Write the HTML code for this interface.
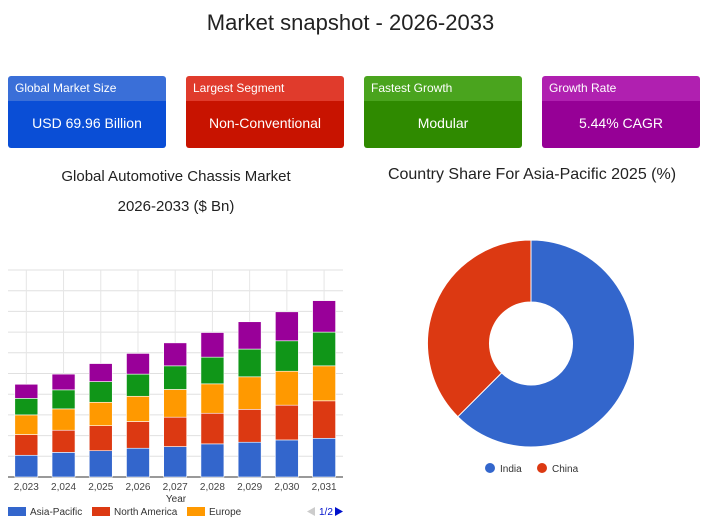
<!DOCTYPE html>
<html><head><meta charset="utf-8"><style>
body{margin:0;width:701px;height:530px;background:#fff;font-family:"Liberation Sans",sans-serif;overflow:hidden;position:relative}
.t{position:absolute;color:#222}
.card{position:absolute;top:76px;height:72px;width:158px;border-radius:3px;overflow:hidden;color:#fff}
.card .h{height:25px;font-size:12px;line-height:25px;padding-left:7px}
.card .v{height:47px;font-size:14px;line-height:45px;text-align:center}
</style></head><body>
<div class="t" style="left:0;width:701px;top:10px;text-align:center;font-size:22px">Market snapshot - 2026-2033</div>
<div class="card" style="left:8px"><div class="h" style="background:#3a6fd8">Global Market Size</div><div class="v" style="background:#0a4ed6">USD 69.96 Billion</div></div>
<div class="card" style="left:186px"><div class="h" style="background:#e03b2c">Largest Segment</div><div class="v" style="background:#c81300">Non-Conventional</div></div>
<div class="card" style="left:364px"><div class="h" style="background:#4aa41e">Fastest Growth</div><div class="v" style="background:#2f8a00">Modular</div></div>
<div class="card" style="left:542px"><div class="h" style="background:#b020b0">Growth Rate</div><div class="v" style="background:#960096">5.44% CAGR</div></div>
<div class="t" style="left:0;width:352px;top:162px;text-align:center;font-size:15px;line-height:30px">Global Automotive Chassis Market<br>2026-2033 ($ Bn)</div>
<div class="t" style="left:362px;width:340px;top:166px;text-align:center;font-size:16px">Country Share For Asia-Pacific 2025 (%)</div>
<svg id="bar" width="352" height="530" style="position:absolute;left:0;top:0"></svg>
<svg id="pie" width="701" height="530" style="position:absolute;left:0;top:0"></svg>
<script>
const years=["2,023","2,024","2,025","2,026","2,027","2,028","2,029","2,030","2,031"];
const asiaPacific=[10.5,11.9,12.7,13.9,14.7,16,16.8,17.9,18.7];
const northAmerica=[10,10.7,12.1,12.9,14.2,14.8,15.9,16.8,18.1];
const europe=[9.5,10.3,11.3,12.2,13.4,14.2,15.7,16.4,16.9];
const latinAmerica=[8,9.2,10,10.7,11.4,12.9,13.4,14.7,16.3];
const mea=[6.8,7.6,8.7,10,11.1,11.9,13.2,14,15.2];
const yTicks=[0,10,20,30,40,50,60,70,80,90,100];
const pieLabels=["India","China"];
const pieValues=[62.5,37.5];
const NS="http://www.w3.org/2000/svg";
function mk(p,t,a){const e=document.createElementNS(NS,t);for(const k in a)e.setAttribute(k,a[k]);p.appendChild(e);return e;}
const bar=document.getElementById('bar');
const x0=8,x1=343,yb=477,yt=270,ymax=100;
const y=v=>yb-(v/ymax)*(yb-yt);
const bw=(x1-x0)/years.length;
const xc=i=>x0+bw*(i+0.5)-0.3;
yTicks.forEach(v=>{const l=mk(bar,'line',{x1:x0,x2:x1,y1:y(v),y2:y(v),stroke:v===0?'#333':'#e0e0e0'});

});
years.forEach((yr,i)=>{const l=mk(bar,'line',{x1:xc(i),x2:xc(i),y1:yt,y2:yb,stroke:'#e6e6e6'});

});
const series=[asiaPacific,northAmerica,europe,latinAmerica,mea];
const cols=["#3366cc","#dc3912","#ff9900","#109618","#990099"];
const snames=["asia-pacific","north-america","europe","latin-america","mea"];
years.forEach((yr,i)=>{let acc=0;series.forEach((s,k)=>{const r=mk(bar,'rect',{x:xc(i)-11.5,width:23,y:y(acc+s[i]),height:y(acc)-y(acc+s[i]),fill:cols[k],stroke:'#fff','stroke-width':0.6});

acc+=s[i];});
const t=mk(bar,'text',{x:xc(i),y:490,'text-anchor':'middle','font-size':10,fill:'#444'});t.textContent=yr;

});
const xt=mk(bar,'text',{x:176,y:502,'text-anchor':'middle','font-size':10,fill:'#333'});xt.textContent='Year';


const leg=[["Asia-Pacific",8],["North America",92],["Europe",187]];
leg.forEach((L,k)=>{const r=mk(bar,'rect',{x:L[1],y:507,width:18,height:9,fill:cols[k]});


const t=mk(bar,'text',{x:L[1]+22,y:515,'font-size':10,fill:'#333'});t.textContent=L[0];

});
const pg=mk(bar,'text',{x:319,y:515,'font-size':10,fill:'#0011cc'});pg.textContent='1/2';


const pl=mk(bar,'polygon',{points:'315,507 315,516 307,511.5',fill:'#ccc'});


const pn=mk(bar,'polygon',{points:'335,507 335,516 343,511.5',fill:'#0011cc'});


const pie=document.getElementById('pie');
const cx=531,cy=343.5,R=103.5,r0=41.5;
const tot=pieValues.reduce((a,b)=>a+b,0);
const pcols=["#3366cc","#dc3912"];
let a=0;
pieValues.forEach((v,i)=>{const a1=a+v/tot*2*Math.PI;const P=(ang,rr)=>[cx+rr*Math.sin(ang),cy-rr*Math.cos(ang)];
const [ax,ay]=P(a,R),[bx,by]=P(a1,R),[cx2,cy2]=P(a1,r0),[dx,dy]=P(a,r0);const lg=(a1-a)>Math.PI?1:0;
const p=mk(pie,'path',{d:`M${ax},${ay}A${R},${R} 0 ${lg} 1 ${bx},${by}L${cx2},${cy2}A${r0},${r0} 0 ${lg} 0 ${dx},${dy}Z`,fill:pcols[i],stroke:'#fff','stroke-width':1});

a=a1;});
[[490,"India"],[542,"China"]].forEach((L,i)=>{const c=mk(pie,'circle',{cx:L[0],cy:468,r:5,fill:pcols[i]});


const t=mk(pie,'text',{x:L[0]+10,y:472,'font-size':10,fill:'#333'});t.textContent=pieLabels[i];

});
</script>
</body></html>
